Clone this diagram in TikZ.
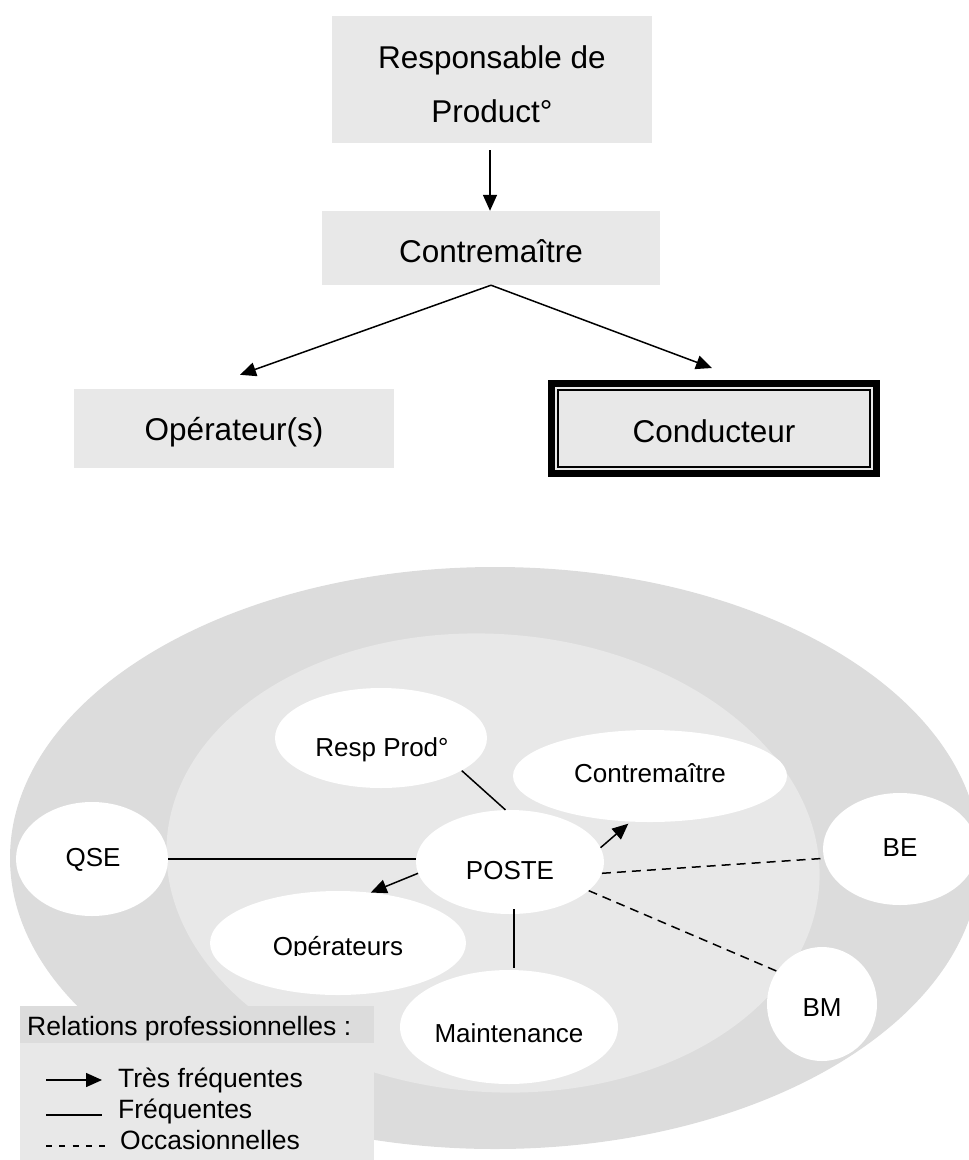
\documentclass[tikz,border=0pt]{standalone}
\usepackage{fontspec}
\setmainfont{Liberation Sans}
\usetikzlibrary{arrows.meta,shapes.geometric}
\definecolor{ringgray}{HTML}{DCDCDC}
\definecolor{softgray}{HTML}{E8E8E8}
\begin{document}
\begin{tikzpicture}[x=1pt,y=-1pt,
  topfill/.style={fill=softgray, inner sep=0pt, font=\fontsize{31.5}{38}\selectfont},
  toplabel/.style={topfill, text depth=0pt},
  oval/.style={ellipse, fill=white, inner sep=0pt},
  ovaltext/.style={inner sep=0pt, font=\fontsize{26}{30}\selectfont, text height=18.6pt, text depth=0pt},
  conn/.style={line width=1.5pt},
  arr/.style={line width=1.5pt, -{Triangle[length=16pt,width=14pt]}},
  occ/.style={line width=1.5pt, dash pattern=on 9pt off 6pt},
  legtext/.style={anchor=west, inner sep=0pt, font=\fontsize{26.5}{30}\selectfont, text height=19pt, text depth=0pt}]
\useasboundingbox (0,0) rectangle (969,1160);
\clip (0,0) rectangle (969,1160);

% ---------- organisation chart ----------
\node[topfill, minimum width=320pt, minimum height=127pt] (resp) at (492,79.5) {};
\node[inner sep=0pt, align=center, font=\fontsize{31.5}{54}\selectfont] (respt) at (492,84) {Responsable de\\Product°};
\node[toplabel, text height=28.6pt, minimum width=338pt, minimum height=74pt] (contre) at (491,248) {Contremaître};
\node[toplabel, text height=24.6pt, minimum width=320pt, minimum height=79pt] (oper) at (234,428.5) {Opérateur(s)};
\node[toplabel, text height=27.6pt, draw=black, line width=7pt, minimum width=325pt, minimum height=90pt] (cond) at (714,428.5) {Conducteur};
\draw[line width=1.6pt] ([xshift=10pt,yshift=-10pt]cond.north west) rectangle ([xshift=-10pt,yshift=10pt]cond.south east);

\draw[arr, shorten <=7pt] ([xshift=-2pt]resp.south) -- ([xshift=-2pt]resp.south |- contre.north);
\draw[arr] (contre.south) -- ([xshift=6pt,yshift=14pt]oper.north);
\draw[arr] (contre.south) -- ([xshift=-2pt,yshift=12pt]cond.north);

% ---------- relations diagram ----------
\fill[ringgray] (495,858) ellipse [x radius=485, y radius=291];
\fill[softgray, rotate around={-4:(493,863)}] (493,863) ellipse [x radius=327, y radius=229];

\node[oval, minimum width=152pt, minimum height=114pt] (qse) at (92,859) {};
\node[oval, minimum width=212pt, minimum height=100pt] (resp2) at (381,738) {};
\node[oval, minimum width=274pt, minimum height=92pt] (ctr2) at (650,776) {};
\node[oval, minimum width=154pt, minimum height=112pt] (be) at (900,849) {};
\node[oval, minimum width=188pt, minimum height=104pt] (poste) at (510,862) {};
\node[oval, minimum width=256pt, minimum height=104pt] (oper2) at (338,943) {};
\node[oval, minimum width=218pt, minimum height=114pt] (maint) at (509,1027) {};
\node[oval, minimum width=110pt, minimum height=114pt] (bm) at (822,1004) {};

\node[ovaltext] (qset) at (93,857) {QSE};
\node[ovaltext] (resp2t) at (382,747) {Resp Prod°};
\node[ovaltext] (ctr2t) at (650,773) {Contremaître};
\node[ovaltext] (bet) at (900,847) {BE};
\node[ovaltext] (postet) at (510,870) {POSTE};
\node[ovaltext] (maintt) at (509,1033) {Maintenance};
\node[ovaltext] (bmt) at (822,1007) {BM};
\begin{scope}
  \clip (200,900) rectangle (480,955);
  \node[ovaltext] (oper2t) at (338,946) {Opérateurs};
\end{scope}

\draw[conn] (resp2.-22) -- (poste.95);
\draw[arr, shorten >=3pt] (poste.9) -- (ctr2.-113);
\draw[arr] (poste.187) -- (oper2.57);
\draw[conn] (qse.east) -- (poste.west |- qse.east);
\draw[conn, shorten <=-5pt] ([xshift=4pt]poste.south) -- ([xshift=4pt,yshift=2pt]poste.south |- maint.north);
\draw[occ] (poste.-7) -- (be.187);
\draw[occ] (poste.-20) -- (bm.144);

% ---------- legend ----------
\fill[ringgray] (20,1006) rectangle (374,1043);
\fill[softgray] (20,1043) rectangle (374,1160);
\node[legtext] (legtitle) at (27,1026) {Relations professionnelles :};
\coordinate (a1) at (46,1080);
\coordinate (a2) at (102,1080);
\draw[arr] (a1) -- (a2);
\node[legtext] (l1) at (118,1078) {Très fréquentes};
\coordinate (b1) at (46,1115);
\coordinate (b2) at (102,1115);
\draw[conn] (b1) -- (b2);
\node[legtext] (l2) at (118,1109) {Fréquentes};
\coordinate (c1) at (46,1146);
\coordinate (c2) at (105,1146);
\draw[line width=1.5pt, dash pattern=on 6pt off 7.25pt] (c1) -- (c2);
\node[legtext] (l3) at (120,1140) {Occasionnelles};
\end{tikzpicture}
\end{document}
